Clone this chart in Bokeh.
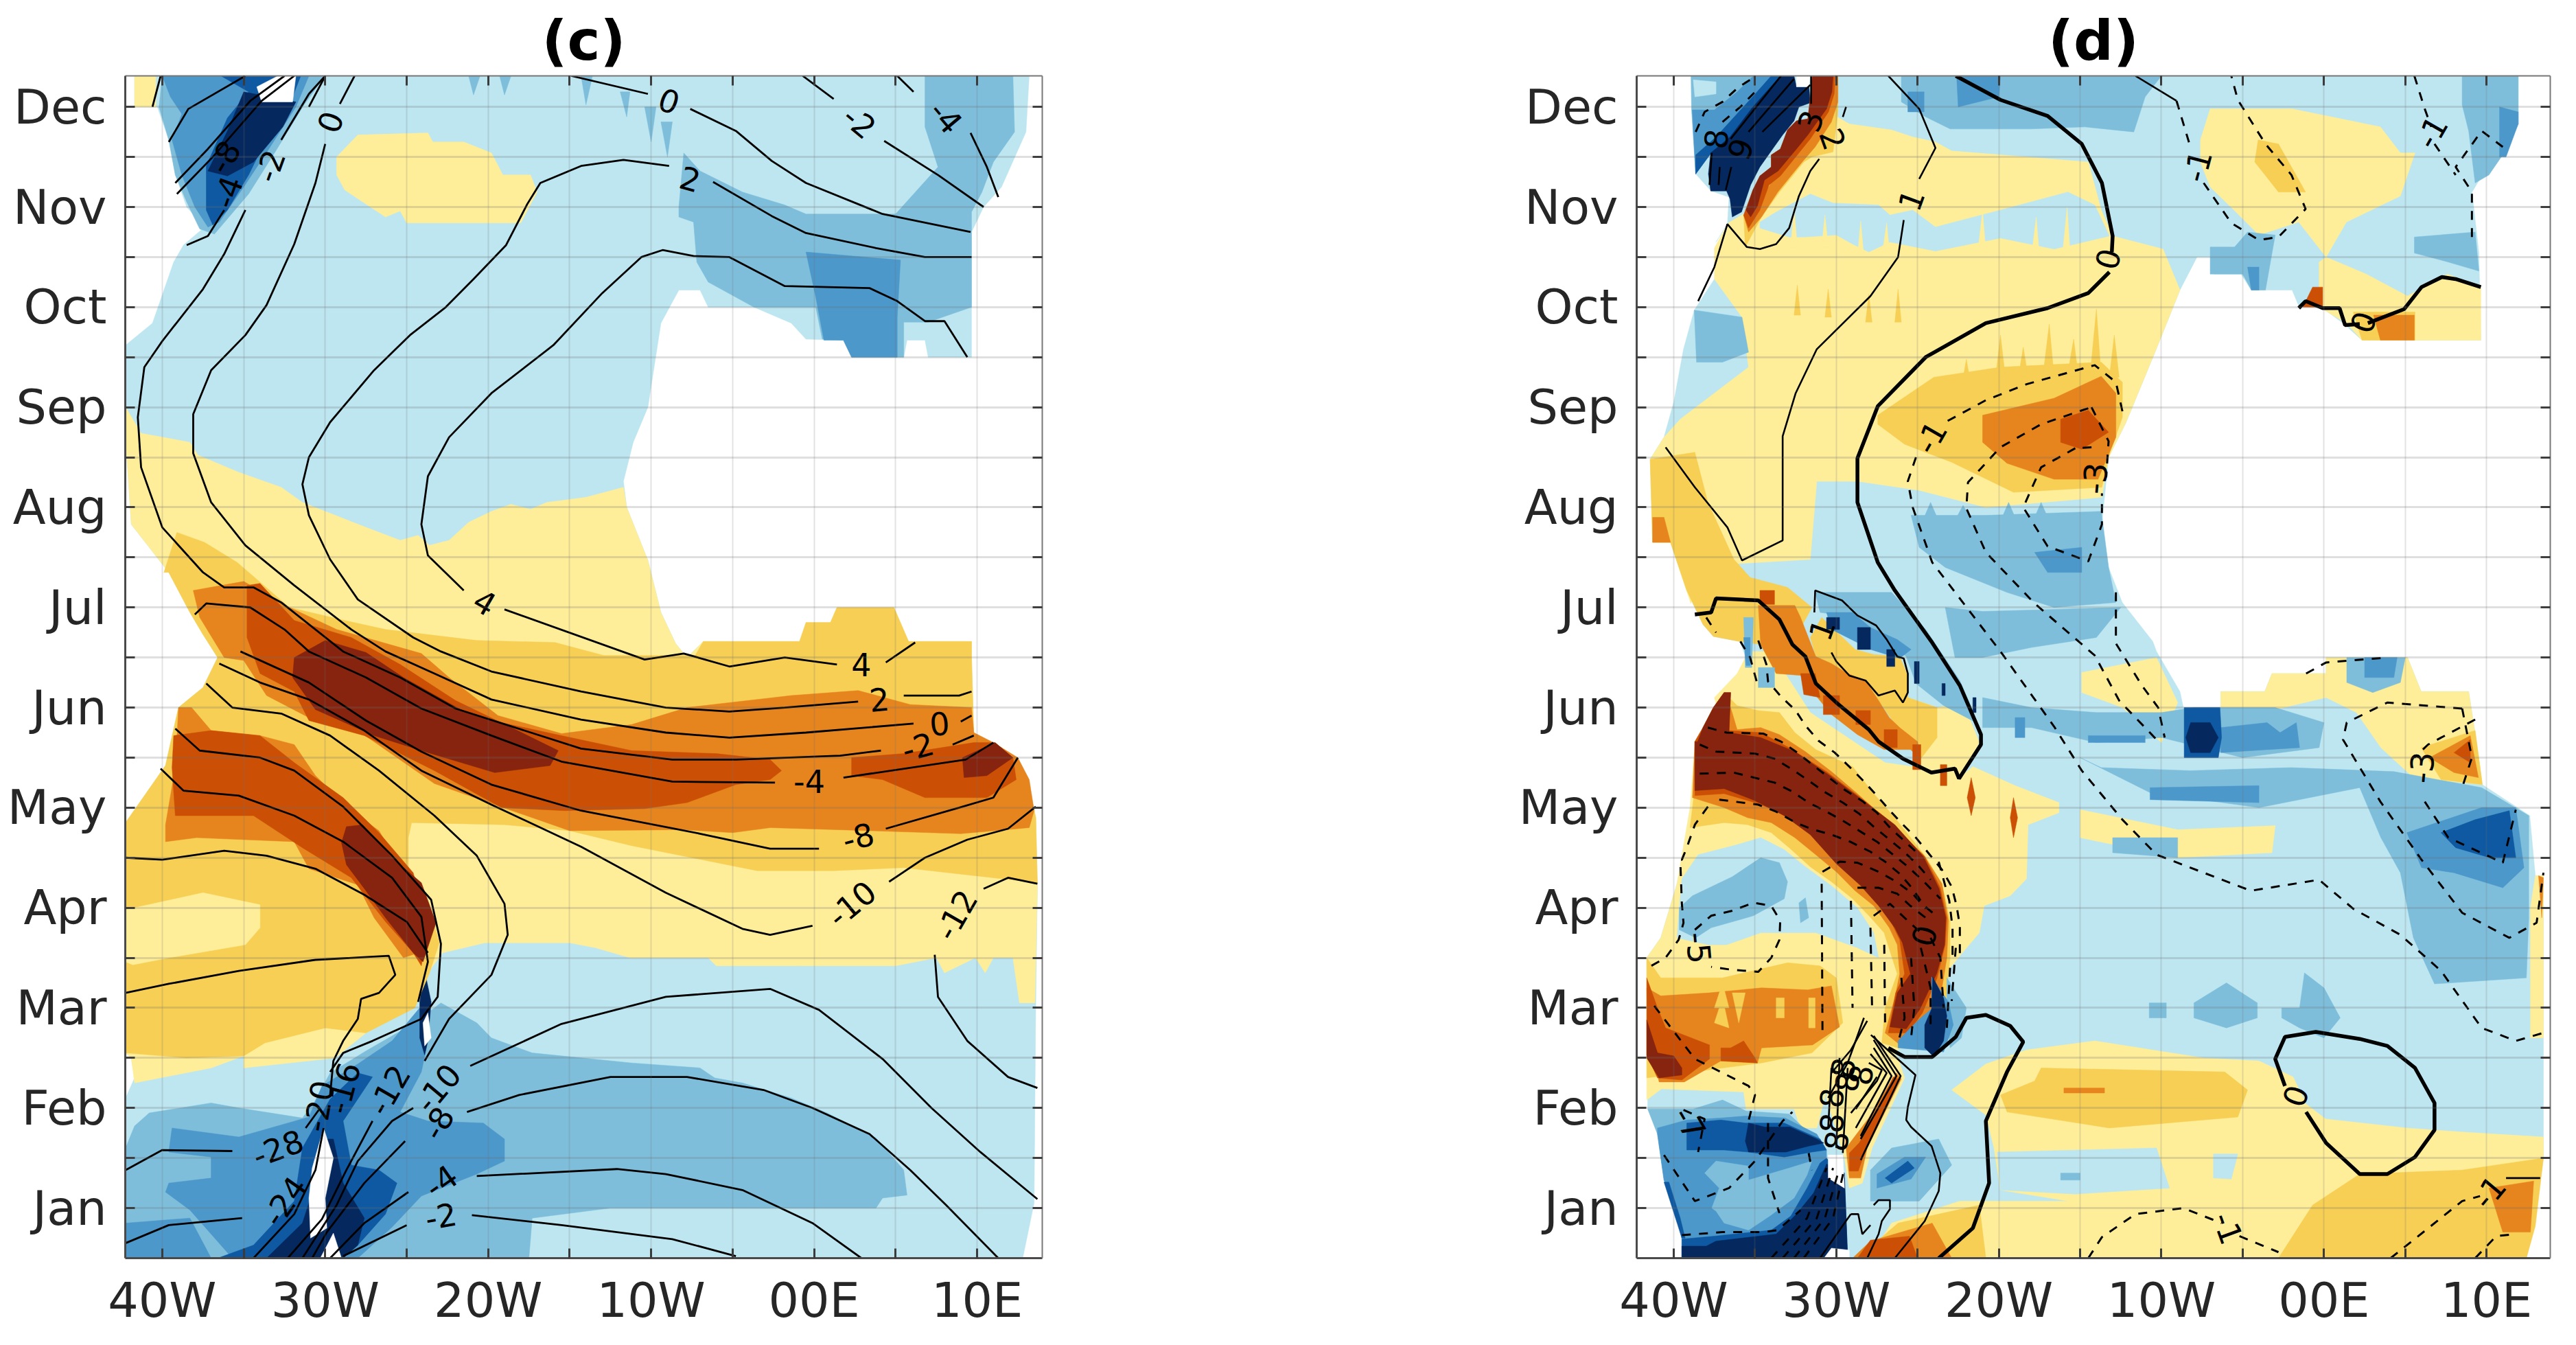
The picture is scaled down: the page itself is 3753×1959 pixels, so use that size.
from bokeh.plotting import figure
from bokeh.layouts import row
from bokeh.models import FixedTicker, LinearAxis, Range1d
from bokeh.core.properties import value
from bokeh.embed import file_html
from bokeh.resources import INLINE

LB, MB, BL, DB, NV = "#BDE6F1", "#7EBEDB", "#4C98CB", "#0E59A1", "#05285F"
LY, YO, OR, DO, BR = "#FEEE99", "#F7CF54", "#E6851E", "#CB5006", "#86240F"
WH = "#FFFFFF"

month_names = ["Jan","Feb","Mar","Apr","May","Jun","Jul","Aug","Sep","Oct","Nov","Dec"]
lon_ticks = {-40:"40W",-30:"30W",-20:"20W",-10:"10W",0:"00E",10:"10E"}

# ---------- panel (c) filled regions: (lon, month) ----------
c_domain = [(-41.7,12.31),(13.2,12.31),(13.0,11.75),(11.5,11.2),(10.4,11.0),(9.66,10.75),(9.66,9.5),(7,9.5),(6.8,9.67),(5.7,9.67),(5.5,9.5),(2.3,9.5),(1.8,9.67),(-0.5,9.68),(-1.4,9.84),(-3.7,10.0),(-6.5,10.0),(-7,10.17),(-8.3,10.17),(-9.4,9.84),(-10.2,9.0),(-11.1,8.65),(-11.7,8.26),(-11.5,8.0),(-10.2,7.47),(-9.4,6.95),(-8.5,6.64),(-7.8,6.5),(-6.8,6.66),(9.66,6.66),(9.66,6.5),(9.8,5.7),(11,5.6),(12.5,5.45),(13.2,5.2),(13.6,4.9),(13.7,4.2),(13.6,3.0),(13.5,1.05),(12.8,0.5),(-42.25,0.5),(-42.25,2.1),(-41.7,2.3),(-41.9,2.5),(-42.25,2.55),(-42.25,4.85),(-39.8,5.42),(-39,6.0),(-37.5,6.2),(-36.6,6.5),(-37.5,6.73),(-38.3,6.95),(-39.6,7.35),(-41.9,7.83),(-42.25,8.7),(-42.25,9.62),(-40.6,9.84),(-39.3,10.45),(-38.7,10.62),(-37.4,10.8),(-38.5,11.0),(-39.2,11.32),(-39.6,11.67),(-40.3,12.0),(-41.7,12.0)]
c_yellow_main = [(-42.25,9.0),(-41.3,8.74),(-38.3,8.65),(-37.8,8.52),(-35.3,8.35),(-32.7,8.2),(-31.4,8.05),(-27.5,7.8),(-25.4,7.67),(-24.3,7.72),(-23.6,7.62),(-22.4,7.67),(-21.2,7.85),(-19.8,7.96),(-18.6,8.03),(-17.4,7.98),(-16.4,8.05),(-14,8.1),(-11.7,8.2),(-11.5,8.0),(-10.2,7.47),(-9.4,6.95),(-8.5,6.64),(-7.8,6.5),(-6.8,6.66),(9.66,6.66),(9.66,6.5),(9.8,5.7),(11,5.6),(12.5,5.45),(13.2,5.2),(13.6,4.9),(13.7,4.2),(13.55,3.05),(12.6,3.05),(12.2,3.5),(11,3.5),(10.5,3.35),(9.9,3.5),(8,3.35),(7.5,3.5),(5,3.42),(-1,3.42),(-6,3.42),(-6.5,3.5),(-11.3,3.5),(-13.4,3.6),(-15,3.65),(-20.2,3.65),(-22.8,3.55),(-23.7,3.35),(-24.5,3.05),(-27.5,2.75),(-29.4,2.5),(-35,2.4),(-35,2.52),(-37,2.4),(-41.7,2.25),(-41.9,2.5),(-42.25,2.55),(-42.25,4.85),(-39.8,5.42),(-39,6.0),(-37.5,6.2),(-36.6,6.5),(-37.5,6.73),(-38.3,6.95),(-39.6,7.35),(-41.9,7.83),(-42.25,8.7)]
c_yellow_top = [(-41.7,12.0),(-40.4,12.0),(-40.4,12.31),(-41.7,12.31)]
c_yellow_isle = [(-29.3,11.5),(-28,11.72),(-23.7,11.74),(-23.4,11.65),(-21.5,11.65),(-19.8,11.54),(-19.1,11.32),(-17.4,11.32),(-17,11.15),(-18,10.84),(-25,10.84),(-25.4,10.96),(-26.3,10.9),(-27.5,11.03),(-28.8,11.17),(-29.3,11.32)]
c_yo_main = [(-39.9,7.35),(-39.1,7.75),(-37.4,7.65),(-35.4,7.45),(-32.2,7.0),(-28.8,6.87),(-26.3,6.78),(-20.7,6.67),(-15.9,6.65),(-12.9,6.52),(-7.3,6.52),(-6.8,6.66),(-0.9,6.66),(-0.5,6.85),(1,6.85),(1.4,7.0),(4.9,7.0),(5.8,6.66),(9.66,6.66),(9.66,6.5),(9.8,5.7),(11,5.6),(12.5,5.45),(13.2,5.2),(13.6,4.9),(13.7,4.25),(5.5,4.4),(1.2,4.37),(-3.5,4.37),(-11.2,4.62),(-15,4.77),(-19,4.83),(-24.7,4.85),(-24.9,4.7),(-24.9,4.3),(-23.6,4.0),(-23,3.65),(-23.6,3.35),(-24.5,3.0),(-27.5,2.75),(-30,2.8),(-33.7,2.65),(-35,2.52),(-38.5,2.5),(-42.25,2.55),(-42.25,4.85),(-39.8,5.42),(-39,6.0),(-37.5,6.2),(-36.6,6.5),(-37.5,6.73),(-38.3,6.95),(-39.6,7.35)]
c_yellow_blob = [(-42.25,3.98),(-37.5,4.15),(-34,4.03),(-34,3.8),(-34.9,3.63),(-39.6,3.5),(-41.8,3.43),(-42.25,3.46)]
c_orange_band = [(-38.1,7.17),(-35,7.26),(-32.7,7.04),(-29.3,6.78),(-24.1,6.54),(-22.4,6.3),(-19.4,5.92),(-15.5,5.74),(-11.2,5.83),(-7.8,6.0),(-1.4,6.12),(2.7,6.17),(5.9,6.03),(9.66,6.0),(9.8,5.75),(11,5.65),(12.5,5.5),(13.2,5.28),(13.5,4.97),(13.2,4.8),(9,4.74),(3.4,4.77),(-2.7,4.8),(-5,4.75),(-8,4.78),(-15,4.77),(-18.9,4.99),(-23.3,5.24),(-28,5.77),(-31,5.9),(-33.6,6.12),(-35,6.47),(-36.2,6.5),(-37.7,6.9)]
c_orange_lobe = [(-39.0,6.0),(-38.2,6.0),(-37,5.77),(-34,5.72),(-31.9,5.63),(-30.6,5.32),(-28.4,4.97),(-26.7,4.77),(-25,4.3),(-24.1,3.9),(-24.3,3.55),(-25.2,3.5),(-27,3.9),(-28,4.23),(-31,4.39),(-31.9,4.66),(-37.9,4.7),(-39.8,4.66),(-39.8,4.83),(-39.2,5.4)]
c_dorange_band = [(-34.8,7.22),(-34,7.24),(-31.9,6.87),(-28.4,6.7),(-25.4,6.43),(-22,6.07),(-19.2,5.85),(-15.5,5.72),(-11.2,5.57),(-6,5.54),(-2.7,5.48),(-2,5.37),(-2.7,5.28),(-4.8,5.23),(-7.8,5.05),(-10.4,4.99),(-15.3,4.97),(-19.2,5.0),(-23.3,5.37),(-27.6,5.72),(-31,5.87),(-31.9,6.16),(-34,6.34),(-34.8,6.7)]
c_dorange_right = [(2.3,5.5),(5.5,5.54),(9.8,5.65),(11.1,5.65),(12.2,5.5),(12.4,5.28),(10.6,5.1),(6.8,5.1),(4.2,5.28),(2.3,5.32)]
c_dorange_lobe = [(-39.3,5.72),(-37,5.77),(-34,5.72),(-31.9,5.45),(-28.9,5.1),(-26.7,4.75),(-24.6,4.35),(-23.7,3.82),(-24.1,3.42),(-24.6,3.55),(-26.3,3.86),(-28.4,4.3),(-31.4,4.6),(-34.4,4.92),(-39.2,4.92),(-39.4,5.4)]
c_brown_band = [(-31.9,6.5),(-30,6.67),(-27.5,6.55),(-25.2,6.3),(-21.7,5.98),(-18.7,5.81),(-15.7,5.57),(-16.2,5.42),(-19.6,5.35),(-23.7,5.55),(-27,5.72),(-30.6,5.98),(-32,6.3)]
c_brown_lobe = [(-28.7,4.81),(-27.7,4.83),(-25.9,4.5),(-24.1,4.25),(-23.2,3.85),(-24,3.46),(-24.6,3.55),(-26.3,3.9),(-27.5,4.17),(-28.7,4.43),(-29,4.65)]
c_brown_right = [(9.1,5.5),(11.1,5.65),(12.2,5.5),(10.6,5.32),(9.2,5.3)]
c_mb_topright = [(-8.3,11.0),(-8,11.54),(-7,11.36),(-4.4,11.15),(-1.8,11.02),(-0.5,10.93),(5,10.93),(7.6,11.4),(6.8,11.8),(6.8,12.31),(12.2,12.31),(12.3,11.75),(11,11.45),(10.3,11.15),(9.66,10.95),(9.66,10.0),(7,9.85),(5.5,9.85),(5.5,9.5),(2.3,9.5),(1.8,9.67),(0.5,9.68),(0.1,10.0),(-3.7,10.0),(-6.5,10.25),(-7.2,10.45),(-7.4,10.85),(-8.3,10.9)]
c_bl_topright = [(-0.5,10.55),(5.3,10.47),(5.1,9.9),(5.1,9.5),(2.3,9.5),(1.8,9.67),(0.6,9.67),(0.1,10.1)]
c_mb_teeth = [[(-21.2,12.31),(-20.9,12.12),(-20.5,12.31)],[(-19.3,12.31),(-19,12.12),(-18.6,12.31)],[(-14.3,12.31),(-14,12.02),(-13.6,12.31)],[(-11.9,12.15),(-11.5,11.9),(-11.3,12.15)],[(-10.4,12.0),(-10,11.65),(-9.7,12.0)],[(-9.4,11.85),(-9,11.5),(-8.7,11.85)]]
c_mb_tl = [(-40,12.31),(-30,12.31),(-31.3,12.02),(-33,11.57),(-34.7,11.13),(-36.8,10.73),(-37.7,10.78),(-38.5,11.05),(-39.2,11.32),(-39.6,11.67),(-40.2,12)]
c_bl_tl = [(-40,12.31),(-31,12.31),(-31.8,12.0),(-33.5,11.57),(-35,11.2),(-36.5,10.85),(-37.2,10.8),(-38,11),(-38.8,11.32),(-39.4,11.67),(-38.8,11.93),(-39.5,12.1)]
c_db_tl = [(-36.4,12.31),(-31.5,12.31),(-32.2,12.02),(-33.4,11.75),(-34.7,11.32),(-36,10.97),(-36.9,10.82),(-37.3,10.97),(-37.3,11.41),(-36,11.89),(-34.7,12.15)]
c_nv_tl = [(-35,12.15),(-31.8,12.05),(-32.6,11.8),(-34.4,11.45),(-36,11.31),(-37.2,11.36),(-36,11.76)]
c_wh_tl = [(-34.2,12.2),(-32.9,12.31),(-31.8,12.31),(-32,12.05),(-33.9,12.05)]
c_mb_low = [(-42.25,1.6),(-41.7,1.82),(-40.8,1.95),(-37,2.05),(-35.3,2.0),(-31.4,1.9),(-30.7,2.05),(-29.7,2.35),(-27.5,2.57),(-24.5,2.85),(-22.9,3.05),(-20.7,2.85),(-19.8,2.7),(-17.3,2.55),(-11.2,2.45),(-7,2.4),(-6.1,2.3),(-4.4,2.25),(-1.4,2.1),(0.8,1.95),(3.8,1.7),(5.5,1.38),(5.7,1.13),(4.2,1.1),(3.8,1),(-7,1),(-12.5,1),(-17.3,0.9),(-17.5,0.5),(-42.25,0.5)]
c_bl_low = [(-39.4,1.8),(-35.3,1.71),(-31,1.91),(-30.2,2.22),(-28,2.44),(-25.9,2.67),(-24.1,3.02),(-23.7,2.67),(-24.1,2.36),(-25.4,1.96),(-23.7,1.87),(-20.3,1.85),(-19,1.69),(-19,1.47),(-20.7,1.34),(-24.1,1.12),(-25.9,0.81),(-28,0.5),(-35.7,0.5),(-38.3,0.98),(-39.8,1.16),(-39.6,1.25),(-37,1.3),(-37,1.51),(-39.6,1.56)]
c_bl_corner = [(-42.25,0.85),(-38.3,0.9),(-37,0.5),(-42.25,0.5)]
c_db_low = [(-31.4,1.6),(-29.7,2.09),(-28,2.35),(-27.1,2.31),(-28.9,1.87),(-28.4,1.43),(-26.7,1.38),(-25.6,1.25),(-26.3,0.94),(-28,0.63),(-28.9,0.5),(-36.6,0.5),(-34.4,0.63),(-31.9,1.07)]
c_nv_low = [(-33.6,0.5),(-31.4,0.85),(-30.6,1.25),(-29.9,1.69),(-29.5,1.69),(-28.9,1.25),(-27.6,0.9),(-28,0.63),(-28.9,0.5)]
c_wh_low = [(-30.1,1.8),(-29.5,1.5),(-30,1.1),(-29.9,0.8),(-30.9,0.7),(-31,1.1),(-30.8,1.4)]
c_wh_bot = [(-29.5,0.75),(-29,0.5),(-30.3,0.5)]
c_nv_streak = [(-23.9,3.37),(-23.5,3.06),(-23.7,2.67),(-23.9,2.53),(-24.2,2.7),(-24.2,3.06)]
c_wh_streak = [(-23.7,2.95),(-23.5,2.7),(-23.9,2.62),(-24,2.85)]

c_fills = [
 (LB,[c_domain]),
 (MB,[c_mb_topright,c_mb_tl,c_mb_low]+c_mb_teeth),
 (BL,[c_bl_topright,c_bl_tl,c_bl_low,c_bl_corner]),
 (DB,[c_db_tl,c_db_low]),
 (NV,[c_nv_tl,c_nv_low,c_nv_streak]),
 (WH,[c_wh_tl,c_wh_low,c_wh_bot,c_wh_streak]),
 (LY,[c_yellow_main,c_yellow_top,c_yellow_isle]),
 (YO,[c_yo_main]),
 (LY,[c_yellow_blob]),
 (OR,[c_orange_band,c_orange_lobe]),
 (DO,[c_dorange_band,c_dorange_right,c_dorange_lobe]),
 (BR,[c_brown_band,c_brown_lobe,c_brown_right]),
]

# ---------- panel (c) contours ----------
c_lines = [
 [(-14.9,12.31),(-10.2,12.13)],[(-7.6,11.98),(-4.8,11.76),(-2.6,11.46),(-0.5,11.24),(4.2,10.93),(9.6,10.75)],
 [(-0.7,12.31),(1.2,12.08)],[(4.3,11.66),(7.6,11.32),(10.4,11.0)],
 [(5.1,12.31),(6.1,12.15)],[(9.6,11.74),(10.6,11.4),(11.3,11.1)],
 [(9.4,9.5),(8.0,9.86),(6.8,9.86),(5.1,10.06),(3.4,10.19),(-1.8,10.21),(-5.2,10.5),(-7.4,10.51),(-9.3,10.57),(-10.6,10.5),(-13,10.14),(-16,9.62),(-19.8,9.14),(-22.4,8.7),(-23.7,8.31),(-24.1,7.83),(-23.7,7.52),(-21.5,7.17)],
 [(-19,6.98),(-10.4,6.48),(-8,6.54),(-5.2,6.41),(-1.8,6.5),(1.4,6.43)],[(4.4,6.45),(6.2,6.65)],
 [(9.66,10.5),(6.8,10.5),(3.8,10.59),(-0.5,10.74),(-2.6,10.91),(-6.2,11.25)],
 [(-8.9,11.41),(-11.7,11.47),(-14.3,11.41),(-16.8,11.24),(-17.6,11.03),(-18.9,10.62),(-20.9,10.28),(-22.6,10.0),(-24.8,9.72),(-27,9.37),(-29.7,8.85),(-31,8.5),(-31.4,8.23),(-31,7.92),(-29.7,7.48),(-28,7.08),(-24.6,6.7),(-22.9,6.56),(-19.8,6.36),(-14.3,6.16),(-9.1,6.0),(-5.2,5.96),(-1.8,6.0),(2.7,6.06)],
 [(5.5,6.12),(8.9,6.12),(9.66,6.16)],
 [(-28.2,12.31),(-29.1,12.03)],[(-30,11.63),(-30.6,11.24),(-31.9,10.63),(-33.6,10.02),(-34.9,9.72),(-37,9.37),(-38.1,8.93),(-38.1,8.54),(-37,8.05),(-34.9,7.62),(-31.9,7.22),(-28.4,6.78),(-26.3,6.56),(-23.3,6.34),(-19.8,6.08),(-14.3,5.88),(-9.1,5.75),(-5.2,5.7),(-0.5,5.75),(6.1,5.84)],[(9,5.86),(9.66,5.92)],
 [(-30,12.31),(-31,12.0)],[(-34.9,10.97),(-36.2,10.53),(-37.5,10.18),(-40,9.66),(-41.1,9.4),(-41.5,8.9),(-41.3,8.4),(-40,7.8),(-37.5,7.35),(-36.2,7.2),(-34.4,7.2),(-32.7,7.05),(-28.9,6.56),(-25.4,6.3),(-22,5.99),(-14.3,5.59),(-8.7,5.48),(-4.8,5.48),(1.6,5.52),(4.1,5.57)],[(8.5,5.63),(9.8,5.72)],
 [(-38,6.93),(-37.3,7.04),(-34.6,7.0),(-32.5,6.78),(-31,6.56),(-27.5,6.3),(-24.1,5.99),(-19.8,5.72),(-15.5,5.46),(-8.7,5.26),(-2.4,5.25)],[(1.8,5.3),(9.3,5.48),(11,5.65)],
 [(-35.2,6.56),(-31,6.25),(-27.5,5.87),(-24.1,5.56),(-19.8,5.23),(-14.3,4.97),(-7,4.74),(-2.7,4.59),(0.3,4.59)],[(4.4,4.79),(8.9,5.0),(11,5.1),(12.5,5.5)],
 [(-37.3,6.24),(-35.7,6.0),(-32.7,5.94),(-29.7,5.72),(-26.7,5.37),(-23.3,4.92),(-20.7,4.52),(-19,4.04),(-18.8,3.73),(-19.8,3.33),(-22.4,2.89),(-23.9,2.47)],
 [(-21.1,2.42),(-15.5,2.84),(-9.1,3.11),(-2.7,3.19),(0.3,2.98),(4.2,2.49),(7.2,2.0),(10.2,1.56),(13.7,1.09)],
 [(-36.5,6.44),(-34,6.25),(-31,6.08),(-27.6,5.77),(-24.1,5.37),(-19.8,5.03),(-14.3,4.61),(-9.1,4.15),(-4.4,3.79),(-2.7,3.73),(-0.1,3.82)],[(4.6,4.26),(6.8,4.5),(9.4,4.68),(11.9,4.79),(13.6,5.01)],
 [(-40.1,5.39),(-38.7,5.17),(-35.3,5.12),(-31.9,4.92),(-28.9,4.66),(-25.9,4.3),(-24.1,3.91),(-23.7,3.46),(-24.3,3.06)],
 [(-39.2,5.79),(-37.7,5.57),(-34,5.5),(-31.9,5.37),(-28.9,5.01),(-25.9,4.52),(-23.5,4.08),(-22.9,3.64),(-23.1,3.11),(-24.1,2.89),(-27.1,2.67),(-28.9,2.55),(-29.7,2.36)],
 [(-42.25,4.5),(-40,4.48),(-36.2,4.57),(-33.6,4.52),(-30.6,4.39),(-27.6,4.13),(-25,3.86),(-23.7,3.55)],
 [(-42.25,3.15),(-39.6,3.24),(-35.3,3.37),(-30.6,3.48),(-26.1,3.52),(-25.7,3.33),(-26.7,3.15),(-27.8,3.09),(-28,2.89),(-28.9,2.67),(-29.5,2.47),(-29.7,2.13)],
 [(-42.25,1.38),(-40,1.58),(-35.7,1.57)],[(-31.2,1.8),(-30.4,1.98)],
 [(-42.25,0.65),(-39.6,0.83),(-35.1,0.9)],
 [(-34.4,0.5),(-31.9,0.94),(-30.6,1.38),(-30.1,1.8)],
 [(-32.3,0.5),(-30.2,0.89),(-28.7,1.38),(-27.1,1.87)],
 [(-31.4,0.5),(-29.3,1.03),(-28,1.47),(-25.9,1.87),(-24.6,2.0)],
 [(-30.8,0.5),(-29.9,0.76),(-27.6,1.25),(-25.1,1.67)],
 [(-21.3,1.96),(-18.1,2.13),(-12.5,2.31),(-7.8,2.31),(-3.1,2.18),(-0.1,2.0),(3.4,1.74),(5.9,1.38),(8.1,1.03),(11.3,0.5)],
 [(-29.7,0.5),(-27.6,0.85),(-24.9,1.16)],
 [(-20.7,1.32),(-12.1,1.39),(-9.1,1.34),(-4.4,1.18),(-0.1,0.85),(2.9,0.5)],
 [(-28.9,0.52),(-25,0.83)],[(-21,0.93),(-15.5,0.83),(-8.7,0.69),(-4.8,0.52)],
 [(7.4,3.53),(7.6,3.11),(9.4,2.67),(11.9,2.31),(13.7,2.2)],[(10.4,4.19),(11.9,4.3),(13.7,4.24)],
 [(-39.6,11.65),(-38.4,11.98),(-34.9,12.31)],
 [(-39.2,11.24),(-37.2,11.58),(-34.6,12.06),(-32.5,12.31)],
 [(-39.1,11.13),(-36.9,11.5),(-33.9,12.06),(-31.9,12.31)],
 [(-32.7,11.67),(-31,12.13),(-30,12.31)],
 [(-38.5,10.62),(-37.2,10.71),(-36.2,10.97)],
 [(-40.1,12.31),(-40.6,12)],
]
c_label_text = ["0","-2","-4","-8","-4","-2","0","2","4","4","2","0","-2","-4","-8","-10","-12","-28","-24","-20","-16","-12","-10","-8","-4","-2"]
c_label_lon = [-8.9,2.8,8.1,-36.2,-36,-33.4,-29.7,-7.6,-20.2,2.9,4,7.7,6.36,-0.3,2.7,2.3,8.7,-32.9,-32.5,-30.4,-28.9,-26.1,-23.1,-23.1,-22.9,-22.9]
c_label_month = [12.06,11.85,11.9,11.5,11.15,11.41,11.85,11.28,7.05,6.43,6.08,5.84,5.61,5.26,4.71,4.04,3.93,1.6,1.07,2.02,2.2,2.18,2.2,1.85,1.27,0.92]
c_label_angle = [-20,-40,-50,60,70,70,70,-15,-30,0,5,5,15,0,15,40,60,20,55,80,75,60,50,60,35,10]

# ---------- panel (d) filled regions ----------
d_domain = [(-38.95,12.31),(11.95,12.31),(11.95,11.83),(11.2,11.57),(9.74,11.32),(9.11,11.15),(9.53,10.54),(9.65,9.67),(2.34,9.67),(1.17,9.84),(-0.08,9.99),(-1.55,10.01),(-1.96,10.17),(-4.47,10.17),(-5.1,10.33),(-6.77,10.33),(-6.98,10.5),(-7.81,10.5),(-8.86,10.17),(-10.32,9.58),(-12.2,8.84),(-13.25,8.5),(-13.66,7.84),(-13.25,7.4),(-12.41,7.05),(-10.53,6.66),(-10.3,6.56),(-8.86,6.16),(-8.65,6.0),(-6.35,5.98),(-6.35,6.16),(-3.64,6.16),(-3.2,6.34),(.13,6.34),(.13,6.5),(5.14,6.5),(5.98,6.16),(8.9,6.16),(9.32,5.72),(9.74,5.23),(12.66,4.92),(13,4.32),(13.5,4.32),(13.5,2.7),(13.5,1.5),(13.08,1.03),(12.45,.5),(-39.5,.5),(-39.5,.71),(-40,1.05),(-40.6,1.28),(-41,1.74),(-41.6,1.99),(-41.66,3.5),(-40.8,3.7),(-39.8,4.24),(-39.5,4.48),(-39,4.8),(-38.7,5.17),(-38.7,5.66),(-38.2,5.8),(-37.56,6),(-36.9,6.16),(-36.27,6.17),(-36.1,6.32),(-35.46,6.34),(-35.4,6.44),(-35.95,6.66),(-37.56,6.71),(-38.2,6.83),(-39.2,7.17),(-40.2,7.65),(-41.3,7.65),(-41.45,8.48),(-40.6,8.7),(-40,9.05),(-39.4,9.58),(-38.74,9.97),(-37.5,10.28),(-36.65,10.84),(-37.4,10.65),(-36.7,10.83),(-36.6,11.1),(-37.7,11.16),(-38.65,11.33),(-38.9,11.97)]
d_y_main = [(-29.2,11.83),(-26.6,11.77),(-25.3,11.7),(-23.9,11.65),(-22.9,11.56),(-18.3,11.5),(-14.5,11.45),(-13.7,10.97),(-13,10.71),(-9.9,10.58),(-8.86,10.17),(-10.32,9.58),(-12.2,8.84),(-13.25,8.5),(-13.66,8.1),(-20.8,8.0),(-24.9,8.17),(-28.7,8.26),(-31.2,8.26),(-31.6,7.48),(-35.8,7.44),(-37.9,7.4),(-38.95,7.04),(-40.2,7.65),(-41.3,7.65),(-41.45,8.48),(-40.6,8.7),(-39.6,8.88),(-35.4,9.4),(-35.8,9.9),(-37.5,10.28),(-37.5,10.59),(-36.65,10.84),(-35,11),(-31,12.0)]
d_lb_nov = [(-34.7,10.85),(-33.7,10.95),(-31.6,11.13),(-30.2,11.04),(-27.4,11.02),(-26.7,10.92),(-25.3,10.97),(-23.9,10.8),(-19.9,10.97),(-15.75,11.15),(-14.1,11.02),(-13.2,10.71),(-16.6,10.58),(-19.9,10.69),(-23.9,10.56),(-26.7,10.65),(-28,10.55),(-29,10.63),(-30,10.72),(-32,10.7),(-32.9,10.7),(-34.7,10.79)]
d_y_nov_spikes = [[(-32.8,10.6),(-32.6,11.0),(-32.4,10.6)],[(-30.9,10.6),(-30.7,10.92),(-30.5,10.6)],[(-28.7,10.5),(-28.5,10.86),(-28.3,10.5)],[(-27.2,10.5),(-26.9,10.84),(-26.7,10.5)],[(-21.3,10.55),(-21,10.96),(-20.8,10.55)],[(-18,10.5),(-17.7,10.9),(-17.5,10.5)],[(-16.1,10.5),(-15.8,11),(-15.6,10.5)]]
d_y_ur = [(-7.6,11.67),(-7,11.98),(-1.96,11.98),(3.47,11.8),(4.7,11.54),(5.6,11.54),(4.7,11.11),(1.38,10.85),(.13,10.5),(-1.55,10.85),(-4,10.72),(-5.6,10.98),(-7,11.2),(-7.6,11.45)]
d_yo_ur = [(-4.05,11.67),(-2.8,11.63),(-1.13,11.15),(-2.8,11.15),(-4.26,11.45)]
d_y_oct = [(-.3,10.45),(-.3,10),(1.38,9.84),(2.34,9.67),(9.65,9.67),(9.65,10.2),(7.6,10.33),(5.14,10.11),(2.6,10.33),(.13,10.5)]
d_yo_oct = [(1.8,9.95),(5.6,9.95),(5.6,9.67),(2.34,9.67)]
d_or_oct = [(3.05,9.92),(5.56,9.92),(5.56,9.67),(3.47,9.67)]
d_do_oct = [(-.7,10.2),(-.08,10.2),(-.08,10),(-1.3,10)]
d_mb_top = [(-26,12.31),(-10,12.31),(-11,12.1),(-11.7,11.75),(-14.7,11.8),(-18,11.78),(-23,11.78),(-24.5,11.9),(-26,12.05)]
d_bl_top = [(-22.6,12.31),(-19.9,12.31),(-20,12.1),(-22.5,12.0)]
d_bl_top2 = [(-25.6,12.15),(-24.6,12.15),(-24.6,11.95),(-25.6,11.95)]
d_mb_tr = [(8.5,12.31),(11.95,12.31),(11.95,11.83),(11.2,11.57),(10.15,11.32),(9.3,11.24),(8.9,11.76),(8.5,12.02)]
d_bl_tr = [(10.8,12),(11.95,11.95),(11.95,11.83),(11.2,11.5),(10.8,11.5)]
d_mb_r = [(5.56,10.7),(9.3,10.75),(9.53,10.36),(7.65,10.45),(5.56,10.54)]
d_mb_gap = [(-4.7,10.75),(-3,10.72),(-3.6,10.17),(-4.47,10.17),(-5,10.33),(-7,10.33),(-7,10.6),(-5.5,10.6)]
d_bl_gap = [(-4.7,10.4),(-4,10.4),(-4,10.17),(-4.47,10.17)]
d_mb_left = [(-38.74,9.97),(-35.8,9.9),(-35.4,9.55),(-37,9.45),(-38.6,9.45)]
d_mb_tl = [(-38.93,12.31),(-33.4,12.31),(-35.1,12),(-36.5,11.7),(-37.7,11.54),(-38.65,11.33),(-38.9,11.97)]
d_lb_tl = [(-38.8,12.27),(-37.4,12.25),(-37.4,12.13),(-38.7,12.1)]
d_bl_tl = [(-38.86,11.97),(-37.5,11.97),(-36.1,12.15),(-35.1,12.31),(-33.4,12.31),(-35.1,12),(-36.5,11.7),(-37.7,11.54),(-38.65,11.33)]
d_db_tl = [(-38.65,11.33),(-38.65,11.52),(-37.4,11.7),(-35.1,12.11),(-34,12.31),(-33.4,12.31),(-35.1,12),(-36.5,11.7),(-37.7,11.54)]
d_nv_tl = [(-33.44,12.31),(-32.6,12.31),(-32.45,12.2),(-31.68,12.2),(-31.6,12.04),(-32.3,12),(-32.6,11.86),(-33.3,11.72),(-34,11.56),(-34.7,11.4),(-35.27,11.22),(-35.83,10.95),(-36.4,10.9),(-36.54,11.08),(-36.75,11.16),(-37.73,11.16),(-37.87,11.33),(-37.73,11.54),(-36.54,11.7),(-35.13,12)]
d_wh_tl = [(-32.45,12.31),(-31.6,12.31),(-31.7,12.2),(-32.45,12.2)]
d_lb_sliver = [(-29.75,12.31),(-29.3,12.31),(-29.4,11.85),(-29.8,11.95)]
d_yo_tl = [(-29.9,12.31),(-29.9,11.95),(-30.2,11.55),(-31.5,11.5),(-32,11.45),(-33.5,11.15),(-34.6,10.9),(-35.6,10.6),(-35.7,10.92),(-33.58,11.36),(-31.75,11.72)]
d_or_tl = [(-29.9,12.31),(-29.9,12.05),(-30.3,11.85),(-31.3,11.6),(-32.1,11.45),(-33.6,11.15),(-34.6,10.9),(-35.4,10.75),(-35.7,10.92),(-35.27,10.9),(-34.85,11.01),(-33.58,11.36),(-31.75,11.72),(-30.6,11.98)]
d_do_tl = [(-30.06,12.31),(-30.13,12.13),(-30.48,11.95),(-31.6,11.68),(-32.3,11.54),(-33.44,11.31),(-34.14,11.22),(-34.7,10.97),(-35.4,10.79),(-35.7,10.92),(-35.13,11.17),(-34.7,11.31),(-34,11.4),(-34,11.52),(-33.44,11.58),(-33,11.77),(-32.45,11.86),(-31.75,11.88),(-31.6,12.09),(-31.46,12.31)]
d_br_tl = [(-30.2,12.31),(-30.27,12.15),(-30.6,11.98),(-31.75,11.72),(-32.45,11.58),(-33.58,11.36),(-34.42,11.27),(-34.85,11.01),(-35.27,10.9),(-35.55,10.97),(-35.13,11.17),(-34.7,11.31),(-34,11.4),(-34,11.52),(-33.44,11.58),(-33,11.77),(-32.45,11.86),(-31.75,11.88),(-31.6,12.09),(-31.46,12.31)]
d_yo_sep = [(-27.45,8.92),(-24,9.3),(-19.9,9.4),(-13.7,9.45),(-12.4,9.25),(-12.4,8.9),(-13.25,8.5),(-13.66,8.2),(-19.1,8.15),(-22.9,8.45),(-25.8,8.63),(-27.45,8.83)]
d_yo_spikes = [[(-22.3,9.2),(-22,9.48),(-21.7,9.2)],[(-20.2,9.3),(-19.9,9.72),(-19.6,9.3)],[(-18.8,9.3),(-18.5,9.6),(-18.2,9.3)],[(-17.3,9.3),(-16.9,9.83),(-16.6,9.3)],[(-15.8,9.3),(-15.4,9.68),(-15.1,9.3)],[(-14.4,9.3),(-14,9.98),(-13.7,9.3)],[(-13.2,9.3),(-12.9,9.72),(-12.6,9.3)],[(-32.6,9.92),(-32.4,10.22),(-32.2,9.92)],[(-30.7,9.9),(-30.5,10.18),(-30.3,9.9)],[(-28.2,9.85),(-28,10.13),(-27.8,9.85)],[(-26.4,9.85),(-26.2,10.18),(-26,9.85)]]
d_or_sep = [(-21,8.92),(-16.6,9.09),(-13.7,9.31),(-12.8,9.14),(-12.8,8.7),(-13.9,8.28),(-16.6,8.28),(-19.5,8.44),(-21,8.65)]
d_do_sep = [(-16.2,8.88),(-14.5,8.97),(-13.25,8.75),(-14.9,8.58),(-16.2,8.65)]
d_yo_left = [(-41.45,8.48),(-38.7,8.55),(-37.9,8.05),(-36.3,7.48),(-35.3,7.3),(-33,7.2),(-31.5,7),(-33.7,6.34),(-34.65,6.63),(-35.95,6.66),(-37.56,6.71),(-38.2,6.83),(-39.2,7.17),(-40.2,7.65),(-41.3,7.65)]
d_or_left = [(-41.3,7.9),(-40.6,7.9),(-40.2,7.65),(-41.3,7.65)]
d_or_diag = [(-34.8,7.02),(-32.55,7.02),(-32.2,6.9),(-31.26,6.51),(-30.3,6.44),(-29.3,6.34),(-28.2,6.27),(-27.4,6.07),(-26.74,5.9),(-26.1,5.8),(-25,5.66),(-24.8,5.49),(-25.44,5.58),(-27.06,5.58),(-28.7,5.73),(-30.3,5.93),(-31.26,6.12),(-32.07,6.32),(-33.7,6.34),(-34.65,6.63)]
d_do_spots = [[(-34.7,7.17),(-33.8,7.17),(-33.8,7.03),(-34.7,7.03)],[(-32.2,6.34),(-31.3,6.34),(-31,6.1),(-32,6.13)],[(-30.8,6.12),(-29.8,6.12),(-29.8,5.93),(-30.8,5.93)],[(-28.8,5.97),(-27.9,5.97),(-27.9,5.83),(-28.8,5.83)],[(-27.06,5.78),(-26.25,5.78),(-26.25,5.6),(-27.06,5.6)],[(-25.3,5.63),(-24.8,5.63),(-24.8,5.38),(-25.3,5.38)],[(-23.6,5.43),(-23.2,5.43),(-23.2,5.22),(-23.6,5.22)],[(-21.7,5.3),(-21.45,5.1),(-21.7,4.92),(-21.95,5.1)],[(-19.1,5.1),(-18.85,4.9),(-19.1,4.7),(-19.3,4.9)]]
d_nv_spots = [[(-30.6,6.9),(-29.8,6.9),(-29.8,6.78),(-30.6,6.78)],[(-28.7,6.8),(-27.9,6.8),(-27.9,6.58),(-28.7,6.58)],[(-26.9,6.58),(-26.4,6.58),(-26.4,6.41),(-26.9,6.41)],[(-25.2,6.46),(-24.9,6.46),(-24.9,6.24),(-25.2,6.24)],[(-23.5,6.24),(-23.3,6.24),(-23.3,6.12),(-23.5,6.12)],[(-21.6,6.1),(-21.4,6.1),(-21.4,5.95),(-21.6,5.95)]]
d_bl_halo = [(-30.6,6.95),(-29,6.95),(-27.9,6.8),(-26.25,6.68),(-25.4,6.58),(-26.1,6.49),(-27.9,6.58),(-28.84,6.66),(-30.3,6.78)]
d_mb_lobe = [(-31.3,7.15),(-26.6,7.15),(-24.5,6.78),(-22.4,6.27),(-21.6,5.97),(-21.4,5.85),(-23.4,6.02),(-25.1,6.24),(-25.7,6.51),(-28.7,6.9),(-31,6.95)]
d_yo_lobe = [(-31.6,6.7),(-30.9,6.9),(-28.84,6.58),(-27.7,6.53),(-26.1,6.51),(-25.6,6.32),(-25.6,6.1),(-23.8,6),(-23.8,5.7),(-24.8,5.49),(-25.4,5.6),(-26.25,5.8),(-27.4,6.07),(-28.2,6.27),(-29.3,6.34),(-30.3,6.44),(-31.26,6.51)]
d_y_neck = [(-25.6,6.1),(-23.8,6),(-22.2,6.05),(-21.2,5.65),(-22.4,5.3),(-25,5.4),(-24.8,5.6)]
d_mb_strip = [(-35.7,6.9),(-35.1,6.9),(-35.2,6.4),(-35.6,6.4)]
d_bl_strip = [(-35.7,6.7),(-35.3,6.7),(-35.3,6.42),(-35.55,6.42)]
d_mb_strip2 = [(-34.8,6.4),(-33.8,6.4),(-33.8,6.2),(-34.8,6.2)]
d_mb_aug = [(-25.4,7.92),(-20.8,7.92),(-13.7,7.96),(-13.25,7.4),(-12.8,7.05),(-16.6,7.0),(-19.5,7.15),(-23.3,7.4),(-24.9,7.6)]
d_mb_aug_spikes = [[(-24.6,7.9),(-24.2,8.05),(-23.8,7.9)],[(-22.6,7.9),(-22.2,8.02),(-21.8,7.9)],[(-19.8,7.9),(-19.4,8.05),(-19,7.9)],[(-17.8,7.9),(-17.4,8.05),(-17,7.9)]]
d_bl_aug = [(-17.8,7.55),(-14.9,7.6),(-14.9,7.35),(-17,7.35)]
d_mb_jul = [(-23.3,7.0),(-21,6.96),(-12.5,7.0),(-14,6.7),(-18,6.6),(-21,6.5),(-22.7,6.5)]
d_mb_jun = [(-21,6.1),(-18,6.0),(-14,5.95),(-10,5.95),(-8,6.0),(-3,6.0),(0,5.85),(-0.3,5.6),(-5,5.5),(-10,5.7),(-14,5.65),(-18,5.8),(-21,5.8)]
d_bl_jun = [[(-19,5.9),(-18.4,5.9),(-18.4,5.7),(-19,5.7)],[(-14.5,5.72),(-11,5.72),(-11,5.65),(-14.5,5.65)],[(-6.35,5.8),(-3.5,5.85),(-2.7,5.75),(-1.7,5.85),(-1.5,5.6),(-6.35,5.55)]]
d_db_jun = [(-8.6,6.0),(-6.4,6.0),(-6.3,5.7),(-6.5,5.5),(-8.6,5.5)]
d_nv_jun = [(-8.2,5.85),(-7,5.85),(-6.5,5.7),(-7,5.55),(-8.2,5.55),(-8.5,5.7)]
d_mb_may = [(-15,5.5),(-10.7,5.15),(-4,5),(2.2,5.2),(3.5,4.7),(4.7,4.35),(5.5,3.7),(6.8,3.24),(12.45,3.3),(12.6,3.9),(12.6,4.92),(9.7,5.2),(4.3,5.36),(-2,5.4),(-8.2,5.37),(-13.7,5.4)]
d_bl_may = [(-10.7,5.2),(-4,5.22),(-4,5.05),(-10.7,5.08)]
d_bl_may2 = [(5.1,4.75),(9.7,5.0),(11.8,5.0),(12.3,4.4),(11,4.2),(8,4.35),(6,4.4)]
d_db_may = [(7.2,4.75),(9.3,4.88),(11.4,4.97),(11.8,4.5),(10.2,4.5),(8.1,4.6)]
d_y_center = [(-36.1,6.34),(-35.4,6.56),(-34,6.56),(-31.6,5.95),(-27,5.45),(-24.9,5.4),(-22.4,5.3),(-21.6,5.41),(-19,5.22),(-16.3,5.05),(-16.3,4.95),(-18.2,4.83),(-18.3,4.29),(-19.3,4.12),(-20.9,4.02),(-21.2,3.75),(-22.5,3.5),(-23.5,3.3),(-25,4),(-26,4.6),(-30,5.2),(-33,5.55),(-37,5.8),(-37.5,6.1)]
d_y_sliver = [(-14.9,6.35),(-10.3,6.5),(-9,6.05),(-10,5.65),(-12.4,6.0),(-14.9,6.15)]
d_y_junr = [(.13,6.5),(5.14,6.5),(5.98,6.16),(8.9,6.16),(9.32,5.72),(9.74,5.23),(5.5,5.3),(3.5,5.6),(2.0,5.95),(.13,6.1)]
d_mb_junr = [(1.4,6.5),(5,6.5),(4.7,6.25),(3,6.15),(1.4,6.25)]
d_bl_junr = [(2.5,6.5),(4.5,6.5),(4.3,6.3),(2.5,6.3)]
d_y_junm = [(-6.35,6.16),(-3.64,6.16),(-3.2,6.34),(0.13,6.34),(.13,6.1),(-3,5.98),(-6.35,5.98)]
d_yo_junr = [(5.98,5.6),(9.3,5.77),(9.74,5.23),(7.2,5.28)]
d_or_junr = [(6.5,5.5),(9,5.72),(9.5,5.3),(8,5.35)]
d_do_junr = [(8,5.55),(9,5.68),(9,5.45)]
d_y_may = [(-15,4.98),(-9,4.78),(-3,4.82),(-3.2,4.55),(-9,4.5),(-15,4.7)]
d_yo_arc = [(-38.53,5.66),(-38.2,5.8),(-37.56,6),(-36.9,6.15),(-36.1,6.02),(-34.8,5.97),(-33.5,5.95),(-32.55,5.75),(-31.26,5.58),(-29,5.41),(-27.7,5.14),(-26.4,4.9),(-24.5,4.51),(-23.5,4.24),(-23,3.87),(-23,3.5),(-23.3,3.0),(-24.5,2.75),(-26.2,2.6),(-27.2,2.65),(-27,3),(-26.25,3.34),(-27.06,3.75),(-27.87,3.9),(-29,4.09),(-30.3,4.26),(-31.6,4.41),(-32.9,4.6),(-34,4.75),(-35.46,4.83),(-36.9,4.85),(-39,4.8),(-38.7,5.2)]
d_or_arc = [(-38.7,5.66),(-38.2,5.8),(-37.56,6),(-36.9,6.15),(-36.5,6.0),(-36.1,5.78),(-34.65,5.8),(-33.5,5.73),(-31.9,5.56),(-30.3,5.36),(-28.7,5.14),(-27.06,4.9),(-24.64,4.53),(-23.5,4.24),(-23.1,3.87),(-23.2,3.5),(-23.5,3.2),(-24.5,2.85),(-26,2.62),(-27,2.75),(-26.4,3.1),(-26.1,3.34),(-26.25,3.63),(-26.74,3.8),(-27.7,4.02),(-28.84,4.17),(-30,4.36),(-31.26,4.53),(-32.55,4.7),(-34,4.85),(-35.46,4.9),(-36.9,5),(-38.85,5.1)]
d_do_arc = [(-38.7,5.66),(-38.2,5.8),(-37.56,6),(-36.9,6.15),(-36.5,6.15),(-36.6,5.77),(-34.65,5.75),(-32.9,5.6),(-30.6,5.36),(-28.5,5.1),(-26.6,4.85),(-24.56,4.51),(-23.6,4.2),(-23.2,3.9),(-23.3,3.63),(-23.8,3.3),(-24.7,2.95),(-25.6,2.75),(-26.8,2.75),(-26.35,3.15),(-25.8,3.34),(-26.1,3.68),(-26.6,3.85),(-27.55,4.07),(-28.84,4.29),(-30.3,4.53),(-31.9,4.78),(-33.7,4.97),(-35,5.05),(-36.9,5.14),(-38.7,5.12)]
d_br_arc = [(-38.7,5.66),(-38.53,5.66),(-38.2,5.8),(-37.56,6),(-36.9,6.15),(-36.5,6.15),(-36.6,5.75),(-34.65,5.7),(-32.55,5.56),(-30.3,5.31),(-28.35,5.07),(-26.4,4.83),(-24.64,4.51),(-23.67,4.19),(-23.26,3.9),(-23.34,3.63),(-23.83,3.34),(-24.85,2.99),(-25.7,2.79),(-26.7,2.81),(-26.25,3.15),(-25.44,3.34),(-25.93,3.65),(-26.4,3.8),(-27.4,4.02),(-28.5,4.22),(-30,4.44),(-31.6,4.73),(-33.2,4.92),(-35,5.07),(-36.9,5.19),(-38.7,5.17)]
d_y_lobe = [(-39.0,5.0),(-38.74,5.55),(-27,5),(-24,4),(-23,3.4),(-26,2.6),(-30.6,2.17),(-31.2,1.8),(-32.2,1.8),(-32.6,1.99),(-35.55,1.99),(-35.7,2.16),(-40.76,2.19),(-41.66,2.08),(-41.66,3.5),(-40.8,3.7),(-39.8,4.24)]
d_lb_lobe = [(-39.5,4.29),(-38.5,4.53),(-36.1,4.63),(-34.65,4.7),(-33.2,4.58),(-31.9,4.41),(-30.3,4.22),(-28.7,4.0),(-27.7,3.75),(-27.4,3.5),(-28.7,3.6),(-31.26,3.75),(-33.2,3.75),(-34.65,3.75),(-36.75,3.63),(-37.9,3.63),(-39.8,3.7),(-39.66,4.0)]
d_mb_lobe2 = [(-39.66,3.87),(-39.66,4.0),(-38.85,4.12),(-36.4,4.31),(-34.65,4.5),(-33.5,4.45),(-33,4.26),(-33.2,4.09),(-35.1,3.92),(-37.7,3.8),(-38.65,3.7),(-39.66,3.78)]
d_mb_lobe3 = [(-32.3,4.05),(-31.9,4.1),(-31.7,3.9),(-32.2,3.85)]
d_yo_mar = [(-41.66,3.5),(-40.8,3.3),(-37,3.3),(-33,3.45),(-31,3.42),(-30,3.3),(-29.6,2.85),(-31.5,2.55),(-34.6,2.45),(-41.66,2.3)]
d_or_mar = [(-40.8,3.12),(-37.8,3.15),(-34.6,3.2),(-31.75,3.18),(-30.3,3.22),(-29.8,2.81),(-31.46,2.63),(-34.6,2.6),(-34.85,2.45),(-37.1,2.47),(-39.35,2.26),(-40.9,2.26),(-41.6,2.76),(-41.66,3.2)]
d_yo_marspikes = [[(-37.5,3.0),(-37,3.25),(-36.6,3.0)],[(-36.4,3.15),(-36,2.85),(-35.6,3.15)],[(-33.7,3.1),(-33.2,3.1),(-33.2,2.9),(-33.7,2.9)],[(-31.7,3.1),(-31.3,3.1),(-31.3,2.8),(-31.7,2.8)],[(-37.5,2.85),(-37,3.1),(-36.6,2.8)]]
d_do_mar = [(-41.66,3.3),(-41,3),(-40.5,2.8),(-37.8,2.63),(-37.8,2.49),(-39.5,2.28),(-41,2.3),(-41.66,2.53)]
d_do_mar2 = [(-37.1,2.6),(-36.5,2.6),(-35.7,2.67),(-35,2.5),(-34.85,2.45),(-37.1,2.47)]
d_br_mar = [(-41.66,2.88),(-41,2.55),(-40,2.52),(-39.5,2.4),(-39.5,2.33),(-40.9,2.3),(-41.66,2.5)]
d_mb_feb = [(-41.6,1.99),(-38.8,1.99),(-37,2.08),(-35.55,1.97),(-32.9,1.94),(-32,1.8),(-31,1.69),(-30.6,1.44),(-29.5,1.3),(-29.3,.5),(-39.5,.5),(-39.5,.71),(-40,1.05),(-40.6,1.28),(-41,1.74)]
d_bl_feb = [(-41,1.8),(-39.2,1.88),(-37.1,1.9),(-35.55,1.92),(-33.15,1.9),(-31.2,1.74),(-30.6,1.58),(-30.6,1.44),(-31.5,1.17),(-32.45,.94),(-33.7,.74),(-37.4,.67),(-39.5,.69),(-40,1.05),(-40.6,1.28),(-41,1.74)]
d_mb_feb2 = [(-38.1,1.35),(-37.4,1.47),(-35.4,1.42),(-35.4,1.28),(-32.9,1.4),(-31.5,1.47),(-31.8,1.33),(-32.6,1.1),(-34.1,.92),(-35.4,.78),(-36.9,.85),(-37.4,.97),(-37.66,1),(-37.2,1.2)]
d_db_feb = [(-39.2,1.85),(-37.1,1.88),(-35.6,1.85),(-33.2,1.85),(-31,1.69),(-30.6,1.58),(-31.5,1.56),(-33.2,1.51),(-35.4,1.56),(-36.9,1.58),(-39.2,1.58)]
d_nv_feb = [(-35.6,1.67),(-35.4,1.85),(-34.4,1.81),(-32.85,1.81),(-31.2,1.69),(-30.76,1.65),(-31.7,1.62),(-33.1,1.56),(-35.4,1.56)]
d_db_jan = [(-39.5,.69),(-37.5,.72),(-34,.78),(-32.8,.92),(-31.8,1.2),(-31,1.45),(-30.6,1.5),(-29.5,1.3),(-29.3,.5),(-39.5,.5)]
d_db_edge = [(-40.6,1.26),(-40.3,1.26),(-39.6,.9),(-39.3,.7),(-39.5,.7)]
d_nv_jan = [(-39.5,.62),(-38,.62),(-37.4,.67),(-33.7,.74),(-32.45,.94),(-31.4,1.15),(-30.6,1.44),(-29.5,1.35),(-29.3,.5),(-39.5,.5)]
d_wh_jan = [(-30.5,1.53),(-29.6,1.53),(-29.5,1.2),(-30.5,1.3)]
d_wh_bot = [(-30.76,.5),(-30.3,.6),(-29.2,.58),(-29.2,.5)]
d_y_feb = [(-22.9,2.18),(-20.8,2.44),(-18.3,2.58),(-14.1,2.67),(-7.4,2.5),(-4,2.47),(-1.9,2.31),(-1.1,2.04),(0.1,1.89),(5.1,1.8),(8.5,1.76),(13.5,1.71),(13.5,1.5),(13.08,1.03),(12.45,.5),(-28,.5),(-26.6,.85),(-22.4,1.07),(-15.7,1.07),(-19.9,1.18),(-20.3,1.6),(-20.8,1.93)]
d_lb_feb1 = [(-20.1,1.56),(-10.3,1.6),(-9.5,1.2),(-15.3,1.14),(-19.9,1.18)]
d_lb_feb2 = [(-6.8,1.54),(-5.3,1.54),(-5.7,1.29),(-6.8,1.3)]
d_mb_spot = [(-16.2,1.35),(-15,1.35),(-15,1.28),(-16.2,1.28)]
d_yo_feb = [(-19.9,2.13),(-17.8,2.27),(-17.4,2.4),(-6.1,2.36),(-4.7,2.18),(-5.3,1.91),(-13.2,1.8),(-19.5,1.96)]
d_or_feb = [(-16,2.2),(-13.5,2.2),(-13.5,2.15),(-16,2.15)]
d_yo_jan = [(-2.8,.5),(-.7,1.03),(2.2,1.34),(8.5,1.38),(13.5,1.5),(13,.82),(12.45,.5)]
d_or_jan = [(10.15,1.2),(12.9,1.27),(12.7,.76),(11,.76)]
d_yo_bot = [(-26.2,.85),(-21.2,1.03),(-20.8,.5),(-28.7,.5)]
d_or_bot = [(-27.9,.67),(-24.1,.85),(-22.9,.5),(-29,.5)]
d_do_bot = [(-28.7,.5),(-27.9,.68),(-25.5,.72),(-25,.5)]
d_y_chev = [(-29.2,1.2),(-28.4,1.25),(-27.8,1.6),(-25.8,2.3),(-26.2,2.5),(-27.5,2.75),(-30,2.6),(-30.6,2.1),(-29.5,1.5)]
d_or_chev = [(-29.4,1.6),(-29.2,1.3),(-28.5,1.3),(-28.1,1.6),(-26,2.29),(-26.3,2.35),(-28,1.9)]
d_do_chev = [(-29.2,1.55),(-29.2,1.37),(-28.65,1.37),(-28.2,1.58),(-26.2,2.29),(-26.5,2.31),(-28.2,1.76),(-28.6,1.65)]
d_mb_cluster = [(-23.2,3.3),(-22,3),(-22.3,2.7),(-23,2.6),(-23.2,2.9)]
d_bl_cluster = [(-24.14,3.31),(-23.1,3.06),(-22.8,2.83),(-23.4,2.56),(-26.2,2.6),(-26.2,2.67),(-25.5,2.79),(-24.8,2.9),(-24.14,2.99)]
d_nv_cluster = [(-24.07,3.31),(-23.4,3.1),(-23.2,2.92),(-23.4,2.67),(-24,2.51),(-24.56,2.6),(-24.56,2.83),(-24.14,2.99)]
d_mb_jan2 = [(-27.9,1.38),(-26.6,1.6),(-23.7,1.69),(-22.9,1.43),(-24.9,1.07),(-27.9,1.07)]
d_bl_jan2 = [(-27.5,1.34),(-25.8,1.51),(-24.5,1.51),(-25.4,1.29),(-27.5,1.2)]
d_db_jan2 = [(-27,1.3),(-25.6,1.47),(-25.2,1.4),(-26.6,1.25)]
d_mb_marspots = [[(-10.75,3.05),(-9.7,3.05),(-9.7,2.9),(-10.75,2.9)],[(-8,3.05),(-6,3.25),(-4.1,3.05),(-4.1,2.9),(-6,2.8),(-8,2.9)],[(-2.6,3),(-1.5,3),(-1.2,3.35),(0,3.2),(1,2.9),(0,2.7),(-1.5,2.8),(-2.6,2.9)],[(-13,4.7),(-9,4.7),(-9,4.5),(-13,4.55)]]
d_y_right = [(13,4.32),(13.5,4.32),(13.5,2.7),(12.7,2.7),(12.7,4)]
d_or_right = [(13.2,4.32),(13.5,4.3),(13.4,3.9)]

d_fills = [
 (LB,[d_domain]),
 (LY,[d_y_main]),
 (LB,[d_lb_nov]),
 (LY,[d_y_ur,d_y_oct,d_y_lobe,d_y_center,d_y_neck,d_y_sliver,d_y_junr,d_y_junm,d_y_may,d_y_feb,d_y_right,d_y_chev]+d_y_nov_spikes),
 (LB,[d_lb_feb1,d_lb_feb2,d_lb_lobe,d_lb_sliver]),
 (YO,[d_yo_ur,d_yo_oct,d_yo_sep,d_yo_left,d_yo_lobe,d_yo_junr,d_yo_arc,d_yo_mar,d_yo_feb,d_yo_jan,d_yo_bot]+d_yo_spikes),
 (OR,[d_or_oct,d_or_sep,d_or_left,d_or_diag,d_or_junr,d_or_arc,d_or_mar,d_or_feb,d_or_jan,d_or_bot,d_or_right,d_or_chev]),
 (YO,d_yo_marspikes),
 (DO,[d_do_oct,d_do_sep,d_do_junr,d_do_arc,d_do_mar,d_do_mar2,d_do_bot,d_do_chev]+d_do_spots),
 (BR,[d_br_arc,d_br_mar]),
 (MB,[d_mb_top,d_mb_tr,d_mb_r,d_mb_gap,d_mb_left,d_mb_tl,d_mb_lobe,d_mb_aug,d_mb_jul,d_mb_jun,d_mb_may,d_mb_lobe2,d_mb_lobe3,d_mb_feb,d_mb_jan2,d_mb_spot,d_mb_strip,d_mb_strip2,d_mb_junr,d_mb_cluster]+d_mb_marspots+d_mb_aug_spikes),
 (LB,[d_lb_tl]),
 (BL,[d_bl_top,d_bl_top2,d_bl_tr,d_bl_gap,d_bl_aug,d_bl_may,d_bl_may2,d_bl_junr,d_bl_feb,d_bl_cluster,d_bl_jan2,d_bl_tl,d_bl_halo,d_bl_strip]+d_bl_jun),
 (MB,[d_mb_feb2]),
 (DB,[d_db_tl,d_db_jun,d_db_may,d_db_feb,d_db_jan,d_db_edge,d_db_jan2]),
 (NV,[d_nv_tl,d_nv_jun,d_nv_feb,d_nv_jan,d_nv_cluster]+d_nv_spots),
 (YO,[d_yo_tl]),(OR,[d_or_tl]),(DO,[d_do_tl]),(BR,[d_br_tl]),
 (WH,[d_wh_tl,d_wh_jan,d_wh_bot]),
]

# ---------- panel (d) contours ----------
d_thick = [
 [(-22.65,12.31),(-19.9,12.07),(-17,11.91),(-14.9,11.63),(-13.66,11.24),(-13,10.71),(-13.05,10.55)],
 [(-13.2,10.35),(-14.5,10.14),(-17,9.99),(-20.8,9.84),(-24.5,9.5),(-27.45,9.01),(-28.7,8.49),(-28.7,8.05),(-27.45,7.45),(-26.4,7.17),(-24.15,6.66),(-22.4,6.22),(-21.1,5.73),(-21.1,5.63),(-22.45,5.29),(-22.7,5.39),(-24.15,5.35),(-25.9,5.49),(-27.4,5.66),(-28,5.78),(-30,6.05),(-31.26,6.24),(-31.9,6.51),(-32.7,6.63),(-33.5,6.88),(-34.8,7.07),(-37.4,7.09),(-37.7,6.95),(-38.7,6.93)],
 [(-1.55,9.99),(-1.13,10.06),(-.08,9.99),(.96,9.99),(1.3,9.82),(2.2,9.83)],
 [(2.7,9.84),(4.93,9.98),(6,10.2),(7.25,10.3),(8.1,10.28),(9.65,10.2)],
 [(-23.7,.5),(-21.6,.8),(-20.6,1.25),(-20.8,1.87),(-19.5,2.36),(-18.5,2.66),(-19.3,2.82),(-20.8,2.93),(-22,2.9),(-22.65,2.71),(-24.1,2.51),(-25.8,2.51),(-26.8,2.6)],
 [(-2.4,2.22),(-3,2.49),(-2.4,2.71),(-.5,2.76),(2.2,2.69),(3.9,2.62),(5.6,2.4),(6.8,2.05),(6.8,1.78),(5.6,1.51),(3.9,1.34),(2.2,1.34),(.13,1.65),(-1.1,1.96)],
]
d_thin = [
 [(-26.8,12.31),(-24.9,11.98),(-23.9,11.59),(-24.9,11.28)],
 [(-25.85,10.87),(-26.2,10.5),(-27.9,10.11),(-31.2,9.58),(-32.5,9.14),(-33.3,8.71),(-33.3,7.67),(-35.8,7.47),(-36.7,7.8),(-38.7,8.2),(-40.5,8.6)],
 [(-29.4,12),(-29.6,11.9)],
 [(-31.05,11.48),(-31.6,11.36),(-32.3,11.11),(-32.9,10.79),(-33.7,10.63),(-34.7,10.58),(-35.5,10.6),(-36.7,10.83),(-37.5,10.4),(-38.5,10.06)],
 [(-11.6,12.31),(-9.07,12.06)],
 [(-31.35,6.95),(-31.3,7.17),(-29.65,7.07),(-28.7,6.92),(-27.55,6.82),(-26.9,6.68),(-26.25,6.51),(-25.85,6.49),(-25.6,6.34),(-25.6,6.15),(-25.9,6.05),(-26.4,6.17),(-27.4,6.12),(-28.2,6.27),(-29.2,6.32),(-30,6.46),(-30.3,6.55)],
 [(11.2,1.3),(13.3,1.3)],
 [(-27.87,2.73),(-25.13,2.33),(-25.6,2.01),(-25.7,1.88),(-25.4,1.81),(-24.14,1.62),(-23.6,1.35),(-23.7,1.17),(-24.56,.87),(-26.4,.5)],
 [(-27.7,1.03),(-27.4,1.08),(-26.7,1.08),(-26.7,.99),(-27.2,.87),(-27.4,.74),(-28.1,.5)],
 [(-29.1,.94),(-28.65,.94),(-28.4,.74),(-27.9,.83)],
 [(-27.7,2.72),(-26.04,2.32),(-28.5,1.48)],[(-27.7,2.68),(-26.3,2.32),(-28.5,1.69)],[(-27.7,2.6),(-26.6,2.32),(-28.5,1.72)],
 [(-27.9,2.54),(-26.9,2.35),(-28.8,1.8)],[(-28,2.45),(-27.2,2.38),(-27.5,2.27),(-29.1,1.95)],[(-27.5,2.31),(-28.8,1.99)],
 [(-28.1,2.87),(-29.1,2.58),(-30.3,2.35)],[(-28.3,2.9),(-29.3,2.45),(-30.5,2.1)],[(-29.8,2.5),(-30,1.6)],[(-30.3,2.4),(-30.5,1.8)],[(-29.3,2.4),(-29.6,1.55)],
 [(-29.1,.94),(-29.5,.85),(-31,.5)],
 [(-31.55,12.31),(-31.55,12.03)],
 [(-36.5,11.68),(-33.4,12.31)],[(-35.4,11.75),(-32.6,12.28)],[(-34.55,11.75),(-31.6,12.22)],
 [(-37.8,11.22),(-37.66,11.54)],[(-37.24,11.22),(-37.17,11.4)],[(-36.8,11.17),(-36.46,11.4)],
]
d_dashed = [
 [(-7.4,11.24),(-5.7,10.84),(-4,10.67),(-2.8,10.7),(-1.13,10.98),(-2,11.32),(-3.6,11.63),(-5.3,12.07),(-5.7,12.31)],
 [(-9.07,12.06),(-8.2,11.59)],
 [(5.56,12.31),(6.2,11.98),(6.6,11.8)],[(6.8,11.63),(8.1,11.32)],
 [(9.1,10.7),(9.1,11.15),(8.1,11.4),(9.7,11.76),(11,11.6)],
 [(-12.4,8.96),(-12.8,9.25),(-14.1,9.42),(-18.3,9.23),(-20.8,9.07),(-23.3,8.85)],
 [(-25.1,8.5),(-25.6,8.26),(-25.3,8),(-24.1,7.45),(-20.8,6.75),(-19.9,6.56),(-16.6,5.81),(-14.9,5.37),(-12.4,4.88),(-10.3,4.53),(-4.5,4.17),(-.3,4.28),(1.8,3.99),(4.7,3.73),(7.2,3.37),(9.7,2.8),(11.8,2.67),(13.5,2.75)],
 [(-14.5,8.99),(-17.4,8.83),(-19.9,8.6),(-21.9,8.25),(-22,7.99),(-20.8,7.55),(-17.8,7.04),(-14.1,6.52),(-12.6,6.07),(-10.3,5.68)],
 [(-14.3,9),(-13.25,8.66),(-13.4,8.3)],
 [(-15.3,8.59),(-17.4,8.4),(-18.5,8),(-17,7.61),(-14.5,7.46),(-13.66,7.83),(-13.66,8.14)],[(-14.3,8.6),(-15.3,8.59)],
 [(-12.8,7.15),(-12.8,6.64),(-11.2,6.22),(-10.2,6.0),(-9.8,5.7)],
 [(8.5,5.99),(3.9,6.05),(1.4,5.85),(1.17,5.68),(3.47,5.06),(6,4.48),(8.5,3.95),(11.4,3.7),(13.08,3.85),(13.5,4.35)],
 [(9.3,5.88),(6.4,5.63),(5.56,5.5)],[(6.2,5.06),(7.65,4.7),(11,4.45),(11.8,4.98)],
 [(-1.1,6.34),(.13,6.45),(3.9,6.5)],[(8.5,5.99),(9.1,5.5),(8.5,5.2)],
 [(-37.9,5.01),(-38.7,4.83),(-39.2,4.6),(-39.5,4.48),(-39.6,4.48),(-39.5,4.04),(-39.4,3.85),(-39.7,3.68),(-40.5,3.5),(-41.6,3.4)],
 [(-38.7,3.78),(-37.7,3.92),(-36.4,3.97),(-35.1,4.05),(-34,4.02),(-33.45,3.87),(-33.5,3.68),(-34,3.5),(-34.8,3.36),(-36.4,3.38),(-37.7,3.41)],
 [(-38.4,5.63),(-37.4,5.56),(-35,5.54),(-33.8,5.49),(-32.7,5.38),(-31.7,5.27),(-30.75,5.16),(-29.6,5.05),(-28.6,4.94),(-27.7,4.81),(-26.8,4.69),(-25.9,4.57),(-25,4.43),(-24.2,4.28)],
 [(-38.4,5.34),(-36.3,5.35),(-33.8,5.25),(-32.7,5.16),(-31.7,5.05),(-30.6,4.96),(-29.5,4.86),(-28.5,4.76),(-27.5,4.66),(-26.5,4.53),(-25.6,4.41),(-24.6,4.26),(-23.6,4.09)],
 [(-37.2,5.08),(-34.8,5.03),(-33.7,4.96),(-32.5,4.85),(-31.4,4.78),(-30.3,4.73),(-29.15,4.66),(-27.9,4.56),(-27,4.46),(-26.1,4.34),(-25.3,4.19),(-24.6,4.02),(-23.7,3.9)],
 [(-37.9,5.8),(-36.75,5.75),(-34.5,5.74),(-33.4,5.66),(-32.4,5.55),(-31.4,5.42),(-30.45,5.3),(-29.5,5.18),(-28.35,5.06),(-27.5,4.95),(-26.7,4.8),(-25.9,4.68),(-25.1,4.56)],
 [(-30.85,4.36),(-29.8,4.46),(-28.7,4.45),(-27.4,4.36),(-26.3,4.26),(-25.3,4.14),(-24.5,3.99)],
 [(-28.7,4.2),(-27.4,4.2),(-26.25,4.14),(-25.45,4.02),(-24.5,3.9)],
 [(-27.7,3.92),(-26.7,4.04),(-25.8,3.9),(-24.8,3.75)],
 [(-34.8,6.67),(-34.3,6.43),(-34.2,6.26),(-33.4,6.11),(-32.5,5.97),(-31.9,5.82),(-31.1,5.67),(-30.1,5.55),(-29.2,5.41),(-28.35,5.27),(-27.5,5.12),(-26.7,4.97),(-25.9,4.83),(-25.1,4.7),(-24.3,4.54),(-23.5,4.38),(-22.9,4.21),(-22.6,4.02),(-22.4,3.82),(-22.4,3.5)],
 [(-23.7,4.46),(-23.05,4.07),(-22.85,3.8),(-22.85,3.46)],
 [(-30.9,4.24),(-30.85,2.75)],[(-29.1,4.07),(-29,3.0)],[(-27.9,3.8),(-27.8,3.0)],[(-27.05,3.63),(-27,2.85)],
 [(-24.2,3.7),(-23.6,3.5),(-23.4,3.0)],[(-24.8,3.6),(-24.2,3.2),(-24.2,2.8)],[(-25.4,3.5),(-25.2,3.0),(-25.4,2.7)],[(-26,3.3),(-25.8,2.9),(-26.2,2.65)],
 [(-22.65,3.6),(-22.9,3.07)],[(-23,3.4),(-23.2,2.8)],
 [(-41.2,3.02),(-38.7,2.49),(-35.4,2.22),(-35,2.13),(-35.4,1.87)],
 [(-40.6,1.53),(-38.7,1.07),(-36.6,1.2),(-35,1.47),(-33.3,1.87),(-32.7,1.96)],
 [(-34.2,1.85),(-34.2,1.3),(-33.5,.95)],[(-31.7,1.55),(-31.5,1.38)],
 [(-39.4,1.98),(-38.1,1.89),(-38.5,1.56)],
 [(-39.5,.73),(-37,.76),(-34.5,.76),(-33.6,.78),(-32.2,.98)],
 [(-34,.5),(-31.8,.9),(-30.6,1.4)],[(-33.3,.5),(-31.2,.9),(-30.2,1.4)],[(-32.6,.5),(-30.7,.9),(-29.8,1.4)],[(-32,.5),(-30.2,.9),(-29.5,1.4)],
 [(-14.5,.5),(-13.66,.71),(-11.6,.94),(-8.65,1),(-6.3,.85)],[(-5.2,.72),(-2.8,.56)],
 [(4.1,.5),(8.5,1.07),(9.6,1.12)],[(9.3,.5),(10.6,.72),(11.8,.74)],
 [(-38,6.9),(-37.4,6.75)],[(-35.9,6.66),(-35.3,6.5),(-34.8,6.2)],
 [(-38.65,11.75),(-38.1,11.95),(-37,12.05),(-36,12.2),(-35,12.3)],[(-37,11.85),(-35.9,12.0),(-35,12.15)],
]
d_label_text = ["1","2","-1","0","0","-1","-3","-3","0","-1","-1","-5","-7","3","8","9","8","8","8","8","8","8","1","0","-1"]
d_label_lon = [-25.4,-30.2,-7.8,-13.3,2.4,-24.2,-14.1,6,-1.75,-5.9,10.15,-38.45,-39,-31.6,-37.4,-35.9,-28.5,-29.35,-30.3,-29.6,-30.3,-30,-30.9,-24.6,6.6]
d_label_month = [11.07,11.68,11.41,10.48,9.85,8.7,8.29,5.4,2.12,.8,1.16,3.6,1.85,11.86,11.68,11.58,2.33,2.26,2.1,2.4,1.85,1.67,6.78,3.72,11.75]
d_label_angle = [70,-70,75,75,70,60,85,85,70,-70,50,-85,-60,70,85,70,80,85,85,80,85,80,70,75,60]


def fmt(polys):
    return [[q[0] for q in poly] for poly in polys], [[q[1] for q in poly] for poly in polys]


def base_fig(left, right, fw, title, lo, hi):
    p = figure(frame_width=fw, frame_height=1722, min_border_left=left, min_border_right=right,
               min_border_top=110, min_border_bottom=90, output_backend="svg", toolbar_location=None,
               x_range=Range1d(lo, hi), y_range=Range1d(0.5, 12.31), title=title)
    x_major = [-40 + 10*i for i in range(6)]
    x_minor = [-35 + 10*i for i in range(5)]
    y_major = list(range(1, 13))
    y_minor = [m + 0.5 for m in range(1, 12)]
    p.xaxis.ticker = FixedTicker(ticks=x_major, minor_ticks=x_minor)
    p.yaxis.ticker = FixedTicker(ticks=y_major, minor_ticks=y_minor)
    p.xaxis.major_label_overrides = {k: lon_ticks[k] for k in x_major}
    p.yaxis.major_label_overrides = {k: month_names[k-1] for k in y_major}
    for ax in (p.xaxis[0], p.yaxis[0]):
        ax.major_label_text_font = "DejaVu Sans"; ax.major_label_text_font_size = "70px"
        ax.major_label_text_color = "#262626"; ax.axis_line_color = "#4a4a4a"; ax.axis_line_width = 3
        ax.major_tick_in = 14; ax.major_tick_out = 0; ax.major_tick_line_color = "#333333"; ax.major_tick_line_width = 3
        ax.minor_tick_in = 14; ax.minor_tick_out = 0; ax.minor_tick_line_color = "#333333"; ax.minor_tick_line_width = 3
        ax.major_label_standoff = 20
    p.yaxis.major_label_standoff = 27
    for side, tk in (("right", y_major + y_minor), ("above", x_major + x_minor)):
        ax = LinearAxis(ticker=FixedTicker(ticks=[], minor_ticks=tk),
                        axis_line_color="#777777", axis_line_width=2,
                        minor_tick_in=14, minor_tick_out=0, minor_tick_line_color="#333333", minor_tick_line_width=3,
                        major_tick_line_color=None)
        p.add_layout(ax, side)
    p.xgrid.ticker = FixedTicker(ticks=x_major + x_minor); p.ygrid.ticker = FixedTicker(ticks=y_major + y_minor)
    p.xgrid.grid_line_color = "#6e6e6e"; p.xgrid.grid_line_alpha = 0.2; p.xgrid.grid_line_width = 2
    p.ygrid.grid_line_color = "#6e6e6e"; p.ygrid.grid_line_alpha = 0.22; p.ygrid.grid_line_width = 3
    p.xgrid.level = "overlay"; p.ygrid.level = "overlay"
    p.outline_line_color = None
    p.title.align = "center"; p.title.text_font = "DejaVu Sans"; p.title.text_font_size = "81px"
    p.title.text_font_style = "bold"; p.title.text_color = "#000000"
    return p


def fills(p, layers):
    for colour, polys in layers:
        xs, ys = fmt(polys)
        p.patches(xs, ys, fill_color=colour, line_color=colour, line_width=0.5)


def contour(p, lines, width, dash="solid"):
    xs, ys = fmt(lines)
    p.multi_line(xs, ys, line_color="#000000", line_width=width, line_dash=dash)


def labels(p, lon, mon, txt, ang, size):
    p.text(lon, mon, text=txt, angle=ang, angle_units="deg", text_align="center", text_baseline="middle",
           text_font=value("DejaVu Sans"), text_font_size=value(size), text_color="#000000")


pc = base_fig(182, 382, 1336, "(c)", -42.27, 14.0)
fills(pc, c_fills)
contour(pc, c_lines, 2.8)
labels(pc, c_label_lon, c_label_month, c_label_text, c_label_angle, "46px")

pd_ = base_fig(484, 30, 1331, "(d)", -42.28, 13.92)
fills(pd_, d_fills)
contour(pd_, d_thin, 2.6)
contour(pd_, d_dashed, 3, "13 12")
contour(pd_, d_thick, 5.5)
labels(pd_, d_label_lon, d_label_month, d_label_text, d_label_angle, "46px")

open("out.html", "w").write(file_html(row(pc, pd_), INLINE))
